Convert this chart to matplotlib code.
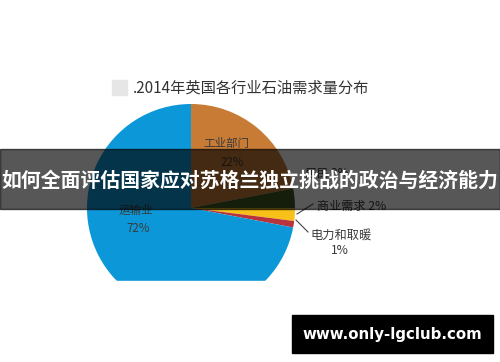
import matplotlib
matplotlib.use("Agg")
import matplotlib.pyplot as plt
from matplotlib.patches import Rectangle

plt.rcParams['font.family'] = ['Noto Sans CJK SC', 'DejaVu Sans']

title = ".2014年英国各行业石油需求量分布"
categories = ["工业部门", "居民需求", "商业需求", "电力和取暖", "运输业"]
values = [22, 3, 2, 1, 72]
colors = ["#C87B35", "#3B5A22", "#F7C11A", "#B8333A", "#0C98D8"]
banner_text = "如何全面评估国家应对苏格兰独立挑战的政治与经济能力"
watermark = "www.only-lgclub.com"

W, H = 500, 362
fig = plt.figure(figsize=(W / 100, H / 100), dpi=100)
ax = fig.add_axes([0, 0, 1, 1])

cx, cy, r = 191, 208, 104
# y axis points down, so start at -90 (visual top) and go counterclockwise in data = clockwise on screen
wedges, _ = ax.pie(values, colors=colors, startangle=-90, counterclock=True,
                   center=(cx, cy), radius=r, frame=True,
                   wedgeprops=dict(linewidth=0))
for w in wedges:
    w.set_zorder(1)
ax.set_xlim(0, W)
ax.set_ylim(H, 0)
ax.set_aspect('equal')
ax.axis('off')

# crop bottom of pie like the screenshot
ax.add_patch(Rectangle((0, 281), W, H - 281, color="white", zorder=2))

lab_col = "#3a3a3a"
ax.text(226, 143, "工业部门", fontsize=8.3, color=lab_col, ha='center', va='center', zorder=3)
ax.text(232, 162, "22%", fontsize=8.3, color=lab_col, ha='center', va='center', zorder=3)
ax.text(136, 210, "运输业", fontsize=8.3, color=lab_col, ha='center', va='center', zorder=3)
ax.text(138, 228, "72%", fontsize=8.3, color=lab_col, ha='center', va='center', zorder=3)
ax.text(305, 173, "居民 3%", fontsize=8.5, color=lab_col, ha='left', va='center', zorder=3)
ax.plot([297, 313], [214, 204], color="#444444", lw=0.8, zorder=3)
ax.text(317, 206, "商业需求 2%", fontsize=8.7, color=lab_col, ha='left', va='center', zorder=3)
ax.plot([296, 308], [220, 232], color="#444444", lw=0.8, zorder=3)
ax.text(310, 235, "电力和取暖", fontsize=8.8, color=lab_col, ha='left', va='center', zorder=3)
ax.text(340, 251, "1%", fontsize=8.7, color=lab_col, ha='center', va='center', zorder=3)

# title
ax.add_patch(Rectangle((112, 80), 15, 15, color="#e6e6e6", zorder=3))
ax.text(133, 88, title, fontsize=11, color="#333333", ha='left', va='center', zorder=3)

# banner overlay
ax.add_patch(Rectangle((0, 149), W, 60, color="black", alpha=0.66, zorder=5))
ax.text(W / 2, 180, banner_text, fontsize=14.3, fontweight='bold', color="white",
        ha='center', va='center', zorder=6)

# watermark
ax.add_patch(Rectangle((292, 315), 201, 38, color="black", zorder=5))
ax.text(392, 334, watermark, fontsize=10.8, fontweight='bold', color="white",
        ha='center', va='center', zorder=6, family=['DejaVu Sans'])

fig.savefig("out.png", dpi=100)
